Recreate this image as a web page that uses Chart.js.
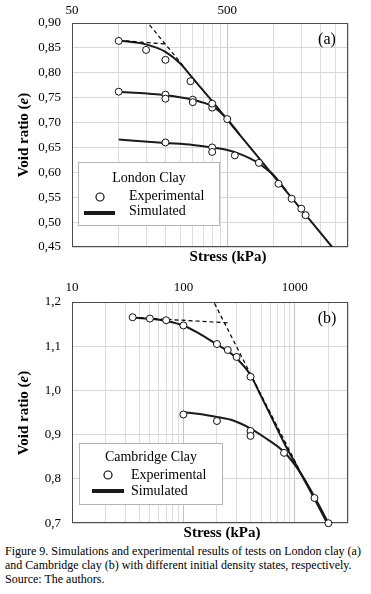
<!DOCTYPE html>
<html><head><meta charset="utf-8">
<script src="https://cdn.jsdelivr.net/npm/chart.js@4.4.0/dist/chart.umd.min.js"></script>
<style>
html,body{margin:0;padding:0;background:#fff;width:371px;height:594px;overflow:hidden;}
#ca{position:absolute;left:0;top:0;}
#cb{position:absolute;left:0;top:270px;}
#cap{position:absolute;left:5px;top:544px;font-family:"Liberation Serif";font-size:12px;line-height:14px;white-space:nowrap;color:#000;}
</style></head><body>
<canvas id="ca" width="371" height="270"></canvas>
<canvas id="cb" width="371" height="272"></canvas>
<div id="cap">Figure 9. Simulations and experimental results of tests on London clay (a)<br>and Cambridge clay (b) with different initial density states, respectively.<br>Source: The authors.</div>
<script>
// ---------- London clay (a) ----------
const londonXTicks = [50,100,150,200,250,300,350,400,450,500,1000,1500,2000,2500,3000];
const londonXLabels = [50,500];
const londonExpStress1 = [100,150,200,290,400,500];
const londonExpVoid1   = [0.864,0.846,0.826,0.783,0.738,0.707];
const londonExpStress2 = [100,200,200,300,300,400];
const londonExpVoid2   = [0.762,0.756,0.748,0.746,0.741,0.730];
const londonExpStress3 = [200,400,400,560,800,1070,1300,1500,1600];
const londonExpVoid3   = [0.660,0.650,0.641,0.634,0.619,0.577,0.547,0.527,0.514];
const londonSimStress1 = [100,150,200,250,300,400,500,1000,2370];
const londonSimVoid1   = [0.865,0.857,0.842,0.818,0.789,0.743,0.706,0.592,0.45];
const londonSimStress2 = [100,200,300,400,450,500,600];
const londonSimVoid2   = [0.762,0.755,0.746,0.733,0.721,0.707,0.676];
const londonSimStress3 = [100,200,300,400,500,600,700,800,900,1000,1100,1200];
const londonSimVoid3   = [0.666,0.659,0.655,0.650,0.645,0.637,0.628,0.618,0.606,0.594,0.578,0.563];
const londonDashStress1 = [100,199];
const londonDashVoid1   = [0.865,0.858];
const londonDashStress2 = [158,260];
const londonDashVoid2   = [0.896,0.814];

// ---------- Cambridge clay (b) ----------
const cambXTicks = [10,20,30,40,50,60,70,80,90,100,200,300,400,500,600,700,800,900,1000,2000,3000];
const cambXLabels = [10,100,1000];
const cambExpStress1 = [35,50,70,100,200,250,300,400];
const cambExpVoid1   = [1.1655,1.1626,1.1587,1.147,1.105,1.0915,1.0758,1.031];
const cambExpStress2 = [100,200,400,400,800,1500,2000];
const cambExpVoid2   = [0.9457,0.931,0.9085,0.8973,0.859,0.757,0.70];
const cambSimStress1 = [35,50,70,100,140,200,250,300,400,500,600,800,1036,1500,1950];
const cambSimVoid1   = [1.165,1.162,1.157,1.147,1.128,1.104,1.089,1.073,1.035,0.986,0.946,0.882,0.830,0.755,0.700];
const cambSimStress2 = [100,140,200,280,400,557,800,1109,1520,2000];
const cambSimVoid2   = [0.951,0.947,0.940,0.932,0.914,0.891,0.861,0.816,0.757,0.70];
const cambDashStress1 = [35,250];
const cambDashVoid1   = [1.165,1.153];
const cambDashStress2 = [190,1100];
const cambDashVoid2   = [1.197,0.82];

const SERIF = '"Liberation Serif", "Times New Roman", serif';
const pts = (xs, ys) => xs.map((x, i) => ({x, y: ys[i]}));

function expSet(xs, ys){
  return {data: pts(xs, ys), showLine:false, pointStyle:'circle', pointRadius:3.5,
    pointBackgroundColor:'#fff', pointBorderColor:'#111', pointBorderWidth:1, order:0, clip:false};
}
function simSet(xs, ys){
  return {data: pts(xs, ys), borderColor:'#1a1a1a', borderWidth:2, pointRadius:0,
    cubicInterpolationMode:'monotone', fill:false, order:2};
}
function dashSet(xs, ys){
  return {data: pts(xs, ys), borderColor:'#000', borderWidth:1.2, borderDash:[4,3], pointRadius:0,
    tension:0, fill:false, order:1};
}

const decoPlugin = {
  id:'deco',
  beforeDatasetsDraw(chart){
    const a = chart.chartArea, c = chart.ctx;
    c.save(); c.strokeStyle = '#4d4d4d'; c.lineWidth = 1;
    c.strokeRect(Math.round(a.left)+0.5, Math.round(a.top)+0.5, Math.round(a.right-a.left)-1, Math.round(a.bottom-a.top)-1);
    c.restore();
  },
  afterDraw(chart){
    const o = chart.options.plugins.deco, c = chart.ctx;
    c.save();
    c.fillStyle = '#000';
    c.translate(o.yTitle.x, o.yTitle.y); c.rotate(-Math.PI/2);
    const parts = [['Void ratio (', 'bold 15px '+SERIF], ['e', 'italic bold 15px '+SERIF], [')', 'bold 15px '+SERIF]];
    let tw = 0; parts.forEach(p => { c.font = p[1]; tw += c.measureText(p[0]).width; });
    let xx = -tw/2; c.textBaseline = 'middle'; c.textAlign = 'left';
    parts.forEach(p => { c.font = p[1]; c.fillText(p[0], xx, 0); xx += c.measureText(p[0]).width; });
    c.setTransform(1,0,0,1,0,0);
    c.font = 'bold 15px '+SERIF; c.textAlign = 'center'; c.textBaseline = 'middle';
    c.fillText('Stress (kPa)', o.xTitle.x, o.xTitle.y);
    c.font = '16px '+SERIF;
    c.fillText(o.panel.text, o.panel.x, o.panel.y);
    const L = o.legend;
    c.fillStyle = '#fff'; c.fillRect(L.x, L.y, L.w, L.h);
    c.strokeStyle = '#b3b3b3'; c.lineWidth = 1; c.strokeRect(L.x+0.5, L.y+0.5, L.w, L.h);
    c.fillStyle = '#000'; c.font = '14px '+SERIF; c.textAlign = 'center';
    c.fillText(L.title, L.tx, L.ty);
    c.beginPath(); c.arc(L.cx, L.cy, 4, 0, Math.PI*2); c.fillStyle = '#fff'; c.fill();
    c.strokeStyle = '#111'; c.lineWidth = 1.2; c.stroke();
    c.beginPath(); c.moveTo(L.lx1, L.ly); c.lineTo(L.lx2, L.ly); c.lineWidth = 4; c.strokeStyle = '#1a1a1a'; c.stroke();
    c.fillStyle = '#000'; c.textAlign = 'left';
    c.fillText('Experimental', L.textX, L.ey);
    c.fillText('Simulated', L.textX, L.sy);
    c.restore();
  }
};

function makeChart(id, cfg){
  const fmt = cfg.fmt;
  return new Chart(document.getElementById(id), {
    type:'line',
    data:{datasets: cfg.datasets},
    options:{
      responsive:false, animation:false, devicePixelRatio:1,
      layout:{padding:{left:0, right:23, top:0, bottom:0}},
      plugins:{legend:{display:false}, tooltip:{enabled:false}, deco: cfg.deco},
      scales:{
        x:{type:'logarithmic', position:'top', min:cfg.xmin, max:cfg.xmax,
          afterBuildTicks: s => { s.ticks = cfg.xticks.map(v => ({value:v})); },
          afterFit: s => { s.height = cfg.topH; },
          ticks:{autoSkip:false, maxRotation:0, padding:cfg.xpad, color:'#000',
            font:{family:SERIF, size:13},
            callback: v => cfg.xlabels.includes(Math.round(v)) ? String(Math.round(v)) : ''},
          grid:{drawTicks:false, color: ctx => (ctx.tick && cfg.xlabels.includes(Math.round(ctx.tick.value))) ? '#c4c4c4' : '#dcdcdc', lineWidth:1},
          border:{display:false}
        },
        x2:{type:'logarithmic', position:'bottom', min:cfg.xmin, max:cfg.xmax,
          afterFit: s => { s.height = cfg.botH; },
          ticks:{display:false}, grid:{display:false}, border:{display:false}
        },
        y:{type:'linear', min:cfg.ymin, max:cfg.ymax,
          afterFit: s => { s.width = 72; },
          ticks:{stepSize:cfg.ystep, padding:11, color:'#000', font:{family:SERIF, size:13},
            callback: v => v.toFixed(fmt).replace('.', ',')},
          grid:{drawTicks:false, color:'#d6d6d6', lineWidth:1},
          border:{display:false}
        }
      }
    },
    plugins:[decoPlugin]
  });
}

makeChart('ca', {
  fmt:2, xmin:50, xmax:3000, xticks:londonXTicks, xlabels:londonXLabels, topH:23, botH:23, xpad:5,
  ymin:0.45, ymax:0.90, ystep:0.05,
  datasets:[
    simSet(londonSimStress1, londonSimVoid1), simSet(londonSimStress2, londonSimVoid2), simSet(londonSimStress3, londonSimVoid3),
    dashSet(londonDashStress1, londonDashVoid1), dashSet(londonDashStress2, londonDashVoid2),
    expSet(londonExpStress1, londonExpVoid1), expSet(londonExpStress2, londonExpVoid2), expSet(londonExpStress3, londonExpVoid3)
  ],
  deco:{yTitle:{x:24, y:135}, xTitle:{x:228, y:257}, panel:{text:'(a)', x:327, y:40},
    legend:{x:78, y:162, w:141, h:63, title:'London Clay', tx:149, ty:178, cx:100, cy:197, lx1:84, lx2:115, ly:213, textX:129, ey:196, sy:211}}
});

makeChart('cb', {
  fmt:1, xmin:10, xmax:3000, xticks:cambXTicks, xlabels:cambXLabels, topH:32, botH:17, xpad:7,
  ymin:0.7, ymax:1.2, ystep:0.1,
  datasets:[
    simSet(cambSimStress1, cambSimVoid1), simSet(cambSimStress2, cambSimVoid2),
    dashSet(cambDashStress1, cambDashVoid1), dashSet(cambDashStress2, cambDashVoid2),
    expSet(cambExpStress1, cambExpVoid1), expSet(cambExpStress2, cambExpVoid2)
  ],
  deco:{yTitle:{x:24, y:143}, xTitle:{x:222, y:263}, panel:{text:'(b)', x:327, y:49},
    legend:{x:79, y:173, w:143, h:61, title:'Cambridge Clay', tx:151, ty:187, cx:108, cy:205, lx1:92, lx2:124, ly:221, textX:131, ey:205, sy:221}}
});
</script>
</body></html>
